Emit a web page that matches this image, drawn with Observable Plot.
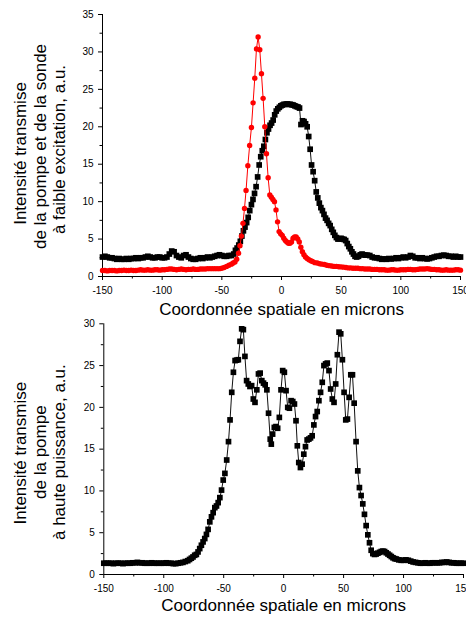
<!DOCTYPE html>
<html>
<head>
<meta charset="utf-8">
<script src="https://cdn.jsdelivr.net/npm/d3@7"></script>
<script src="https://cdn.jsdelivr.net/npm/@observablehq/plot@0.6"></script>
<style>
  html, body { margin: 0; padding: 0; background: white; overflow: hidden; }
  #wrap { position: relative; width: 466px; height: 618px; }
  #top, #bottom { position: absolute; left: 0; }
  #top { top: 0; }
  #bottom { top: 300px; }
</style>
</head>
<body>
<div id="wrap"><div id="top"></div><div id="bottom"></div></div>
<script>
// ---- tick labels ----
const xTicks = [-150, -100, -50, 0, 50, 100, 150];
const xMinorTicks = [-125, -75, -25, 25, 75, 125];
const yTicksTop = [0, 5, 10, 15, 20, 25, 30, 35];
const yMinorTop = [2.5, 7.5, 12.5, 17.5, 22.5, 27.5, 32.5];
const yTicksBottom = [0, 5, 10, 15, 20, 25, 30];
const yMinorBottom = [2.5, 7.5, 12.5, 17.5, 22.5, 27.5];

// ---- texts ----
const xTitle = "Coordonnée spatiale en microns";
const yTitleTop = ["Intensité transmise", "de la pompe et de la sonde", "à faible excitation, a.u."];
const yTitleBottom = ["Intensité transmise", "de la pompe", "à haute puissance, a.u."];

// ---- series: [x (µm), intensity (a.u.)] ----
// top chart, red circles
const probeLow = [[-150,0.8],[-148,0.8],[-146,0.75],[-144,0.8],[-142,0.8],[-140,0.8],[-138,0.75],[-136,0.8],[-134,0.8],[-132,0.85],[-130,0.8],[-128,0.8],[-126,0.85],[-124,0.8],[-122,0.8],[-120,0.85],[-118,0.9],[-116,0.85],[-114,0.85],[-112,0.9],[-110,0.85],[-108,0.85],[-106,0.9],[-104,0.9],[-102,0.85],[-100,0.9],[-98,0.9],[-96,0.95],[-94,1.0],[-92,1.0],[-90,0.95],[-88,0.9],[-86,0.95],[-84,1.0],[-82,0.95],[-80,0.9],[-78,0.95],[-76,0.95],[-74,1.0],[-72,0.95],[-70,0.95],[-68,1.0],[-66,1.0],[-64,1.0],[-62,1.05],[-60,1.05],[-58,1.05],[-56,1.05],[-54,1.05],[-52,1.05],[-50,1.1],[-48,1.2],[-46,1.35],[-44,1.5],[-42,1.65],[-40.5,1.8],[-39,1.95],[-37.5,2.3],[-36,3.1],[-34.8,4.1],[-33.6,5.4],[-32.3,7.1],[-31,9.1],[-29.7,11.5],[-28.2,14.8],[-26.7,17.5],[-25.2,19.9],[-23.8,23.2],[-22.4,26.5],[-21,30.4],[-19.6,32.0],[-18.2,30.3],[-16.8,27.1],[-15.4,23.8],[-14,20.0],[-12.6,16.4],[-11.2,13.2],[-9.8,10.9],[-8.5,10.6],[-7.2,10.3],[-5.9,10.0],[-4.6,8.9],[-3.3,7.3],[-2,6.0],[-0.7,5.7],[0.6,5.5],[1.9,5.1],[3.2,4.8],[4.5,4.6],[5.8,4.45],[7.1,4.45],[8.4,4.6],[9.7,5.1],[11,5.3],[12.3,5.3],[13.6,5.0],[14.9,4.6],[16.2,3.9],[17.5,3.3],[18.8,2.9],[20.1,2.6],[21.5,2.4],[23,2.25],[24.5,2.1],[26,2.0],[28,1.85],[30,1.8],[32,1.7],[34,1.65],[36,1.6],[38,1.5],[40,1.45],[42,1.4],[44,1.35],[46,1.35],[48,1.3],[50,1.28],[52,1.25],[54,1.2],[56,1.15],[58,1.15],[60,1.1],[62,1.1],[64,1.1],[66,1.05],[68,1.05],[70,1.0],[72,1.0],[74,1.0],[76,0.95],[78,0.95],[80,0.95],[82,0.9],[84,0.9],[86,0.9],[88,0.85],[90,0.85],[92,0.9],[94,0.9],[96,0.85],[98,0.85],[100,0.9],[102,0.9],[104,0.9],[106,0.95],[108,0.95],[110,0.9],[112,0.9],[114,0.95],[116,1.0],[118,1.0],[120,1.0],[122,1.05],[124,1.0],[126,0.95],[128,0.95],[130,0.9],[132,0.9],[134,0.85],[136,0.85],[138,0.9],[140,0.85],[142,0.85],[144,0.85],[146,0.9],[148,0.9],[150,0.85]];

// top chart, black squares
const pumpLow = [[-150,2.6],[-148,2.7],[-146,2.6],[-144,2.5],[-142,2.5],[-140,2.4],[-138,2.3],[-136,2.4],[-134,2.3],[-132,2.3],[-130,2.4],[-128,2.3],[-126,2.4],[-124,2.4],[-122,2.5],[-120,2.4],[-118,2.5],[-116,2.5],[-114,2.6],[-112,2.7],[-110,2.6],[-108,2.5],[-106,2.5],[-104,2.6],[-102,2.6],[-100,2.5],[-98,2.5],[-96,2.6],[-94,3.0],[-92,3.4],[-90,3.3],[-88,2.8],[-86,2.6],[-84,2.5],[-82,2.8],[-80,2.9],[-78,2.6],[-76,2.4],[-74,2.3],[-72,2.3],[-70,2.4],[-68,2.5],[-66,2.4],[-64,2.5],[-62,2.6],[-60,2.5],[-58,2.6],[-56,2.7],[-54,2.8],[-52,2.9],[-50,2.8],[-48,2.7],[-46,2.7],[-44,2.8],[-42,2.8],[-40,3.0],[-38.6,3.5],[-37.2,3.8],[-35.8,4.2],[-34.5,4.7],[-33.2,5.4],[-31.9,6.1],[-30.6,6.6],[-29.2,7.2],[-27.9,7.9],[-26.6,8.8],[-25.2,9.6],[-23.9,10.3],[-22.6,11.1],[-21.3,12.0],[-20,13.3],[-18.7,14.9],[-17.4,16.0],[-16.1,16.8],[-14.8,17.4],[-13.5,18.3],[-12.2,19.2],[-10.9,19.7],[-9.6,20.2],[-8.3,20.5],[-7,20.9],[-5.7,21.6],[-4.4,22.1],[-3.1,22.4],[-1.8,22.6],[-0.5,22.8],[0.8,22.9],[2.1,23.0],[3.4,23.0],[4.7,23.05],[6,23.0],[7.3,23.0],[8.6,22.95],[9.9,22.9],[11.2,22.8],[12.5,22.7],[13.8,22.65],[15.1,22.5],[16.3,20.3],[17.6,20.8],[18.9,20.7],[20.2,20.4],[21.5,20.0],[22.8,18.7],[24,17.0],[25.2,14.9],[26.5,14.0],[27.8,12.8],[29.1,11.3],[30.4,10.5],[31.7,9.8],[33,9.2],[34.3,8.8],[35.6,8.3],[36.9,7.8],[38.2,7.5],[39.5,7.1],[40.8,6.8],[42.1,6.3],[43.4,5.9],[44.7,5.5],[46,5.2],[47.3,5.0],[48.6,5.05],[49.9,5.1],[51.2,5.0],[52.5,4.95],[53.8,4.8],[55.1,4.4],[56.4,4.0],[57.7,3.7],[59,3.3],[60.3,3.0],[61.6,2.7],[63,2.6],[64.5,2.7],[66,2.9],[67.5,3.0],[69,2.9],[70.5,2.85],[72,2.85],[74,2.8],[76,2.6],[78,2.5],[80,2.5],[82,2.4],[84,2.3],[86,2.35],[88,2.3],[90,2.4],[92,2.35],[94,2.4],[96,2.5],[98,2.4],[100,2.5],[102,2.6],[104,2.5],[106,2.6],[108,2.8],[110,2.7],[112,2.5],[114,2.5],[116,2.4],[118,2.5],[120,2.4],[122,2.35],[124,2.4],[126,2.5],[128,2.6],[130,2.7],[132,2.7],[134,2.8],[136,2.85],[138,2.8],[140,2.7],[142,2.7],[144,2.6],[146,2.7],[148,2.6],[150,2.6]];

// bottom chart, black squares
const pumpHigh = [[-150,1.35],[-148,1.35],[-146,1.35],[-144,1.35],[-142,1.3],[-140,1.35],[-138,1.35],[-136,1.35],[-134,1.3],[-132,1.35],[-130,1.35],[-128,1.35],[-126,1.4],[-124,1.4],[-122,1.45],[-120,1.4],[-118,1.4],[-116,1.35],[-114,1.35],[-112,1.35],[-110,1.4],[-108,1.35],[-106,1.35],[-104,1.35],[-102,1.35],[-100,1.35],[-98,1.4],[-96,1.35],[-94,1.35],[-92,1.3],[-90,1.3],[-88,1.35],[-86,1.4],[-84,1.45],[-82,1.55],[-80,1.65],[-78.5,1.8],[-77,1.95],[-75.6,2.1],[-74.2,2.3],[-72.8,2.4],[-71.4,2.7],[-70,3.1],[-68.6,3.5],[-67.2,3.9],[-65.8,4.3],[-64.4,4.8],[-63,5.4],[-61.6,6.3],[-60.2,6.9],[-58.8,7.4],[-57.4,8.0],[-56,8.2],[-54.6,8.6],[-53.2,9.2],[-51.8,10.1],[-50.4,11.3],[-49,12.1],[-47.5,13.7],[-46,15.9],[-44.7,18.5],[-43.3,21.8],[-41.9,24.2],[-40.5,25.6],[-39.2,25.65],[-37.8,25.7],[-36.4,27.9],[-35,29.4],[-33.6,29.3],[-32.3,26.1],[-30.9,23.2],[-29.5,22.8],[-28.1,22.5],[-26.7,22.6],[-25.3,21.0],[-23.9,20.6],[-22.4,22.1],[-21,24.0],[-19.6,24.1],[-18.2,23.2],[-16.8,22.9],[-15.4,22.7],[-14,22.1],[-12.6,19.3],[-11.2,16.2],[-10.3,15.6],[-9.2,16.8],[-7.8,17.6],[-6.4,17.7],[-5,17.5],[-3.6,18.8],[-2.2,22.1],[-0.8,24.4],[0.6,24.2],[2,22.0],[3.4,20.0],[4.8,19.9],[6.2,20.8],[7.6,20.7],[9,20.4],[10.3,18.4],[11.4,15.4],[12.6,13.4],[14,12.8],[15.4,13.2],[16.8,14.4],[18.2,15.3],[19.6,16.1],[21,16.2],[22.4,16.35],[23.8,16.6],[25.2,17.9],[26.6,18.9],[28,19.5],[29.4,20.8],[30.8,21.8],[32.2,23.0],[33.6,25.0],[35,25.2],[36.4,25.3],[37.8,24.4],[39.2,22.2],[40.6,21.0],[42,20.6],[43.4,22.8],[44.8,26.3],[46.2,29.0],[47.6,28.8],[49,25.7],[50.4,21.8],[51.8,18.5],[53.2,18.6],[54.6,21.2],[56,23.9],[57.4,23.9],[58.8,20.5],[60.4,15.9],[61.8,12.4],[63.2,10.4],[64.6,9.45],[66,8.45],[67.4,7.2],[68.8,5.85],[70.2,4.75],[71.6,3.8],[73,2.9],[74.4,2.5],[75.8,2.4],[77.2,2.45],[78.6,2.55],[80,2.65],[81.4,2.75],[82.8,2.8],[84.2,2.75],[85.6,2.6],[87,2.45],[88.4,2.3],[89.8,2.15],[91.2,2.0],[92.6,1.9],[94,1.85],[96,1.75],[98,1.7],[100,1.7],[102,1.75],[104,1.7],[106,1.6],[108,1.5],[110,1.45],[112,1.4],[114,1.35],[116,1.35],[118,1.4],[120,1.35],[122,1.35],[124,1.4],[126,1.4],[128,1.4],[130,1.4],[132,1.45],[134,1.45],[136,1.5],[138,1.45],[140,1.4],[142,1.4],[144,1.35],[146,1.35],[148,1.35],[150,1.35]];

const FONT = "Arial, 'Liberation Sans', Helvetica, sans-serif";
const px = d => d[0], py = d => d[1];

function axes(yTicks, yMinor) {
  return [
    Plot.ruleX([xTicks[0]], {stroke: "black", strokeWidth: 1}),
    Plot.ruleY([yTicks[0]], {stroke: "black", strokeWidth: 1}),
    Plot.axisX({ticks: xTicks, tickSize: 4, tickPadding: 6, tickFormat: d => String(d), label: null, fontSize: 10}),
    Plot.axisX({ticks: xMinorTicks, tickSize: 2.5, tickFormat: () => "", label: null}),
    Plot.axisY({ticks: yTicks, tickSize: 4, tickPadding: 5, tickFormat: d => String(d), label: null, fontSize: 10}),
    Plot.axisY({ticks: yMinor, tickSize: 2.5, tickFormat: () => "", label: null})
  ];
}

function yTitle(lines, dxs, dys) {
  return lines.map((t, i) => Plot.text([t], {
    frameAnchor: "left", dx: dxs[i], dy: dys[i], rotate: -90,
    textAnchor: "middle", lineAnchor: "middle", fontSize: 17, fill: "black"
  }));
}

const topPlot = Plot.plot({
  width: 466, height: 300,
  marginTop: 14, marginBottom: 24, marginLeft: 102, marginRight: 6,
  style: {fontFamily: FONT, fontSize: "10px", background: "transparent", overflow: "visible", color: "black"},
  x: {domain: [xTicks[0], xTicks[xTicks.length - 1]]},
  y: {domain: [yTicksTop[0], yTicksTop[yTicksTop.length - 1]]},
  marks: [
    ...axes(yTicksTop, yMinorTop),
    Plot.line(pumpLow, {x: px, y: py, stroke: "#111", strokeWidth: 1}),
    Plot.dot(pumpLow, {x: px, y: py, symbol: "square", r: 3.2, fill: "black"}),
    Plot.line(probeLow, {x: px, y: py, stroke: "#ff0000", strokeWidth: 1}),
    Plot.dot(probeLow, {x: px, y: py, r: 2.7, fill: "#ff0000"}),
    Plot.text([xTitle], {frameAnchor: "bottom", dy: 38.5, fontSize: 17, fill: "black"}),
    ...yTitle(yTitleTop, [-82, -62, -43], [8, 1, 4])
  ]
});
document.getElementById("top").append(topPlot);

const bottomPlot = Plot.plot({
  width: 466, height: 318,
  marginTop: 23.3, marginBottom: 44, marginLeft: 103.3, marginRight: 3,
  style: {fontFamily: FONT, fontSize: "10px", background: "transparent", overflow: "visible", color: "black"},
  x: {domain: [xTicks[0], xTicks[xTicks.length - 1]]},
  y: {domain: [yTicksBottom[0], yTicksBottom[yTicksBottom.length - 1]]},
  marks: [
    ...axes(yTicksBottom, yMinorBottom),
    Plot.line(pumpHigh, {x: px, y: py, stroke: "#111", strokeWidth: 1}),
    Plot.dot(pumpHigh, {x: px, y: py, symbol: "square", r: 3.2, fill: "black"}),
    Plot.text([xTitle], {frameAnchor: "bottom", dy: 36.5, fontSize: 17, fill: "black"}),
    ...yTitle(yTitleBottom, [-83, -63, -44], [4, 3, 3])
  ]
});
document.getElementById("bottom").append(bottomPlot);
</script>
</body>
</html>
